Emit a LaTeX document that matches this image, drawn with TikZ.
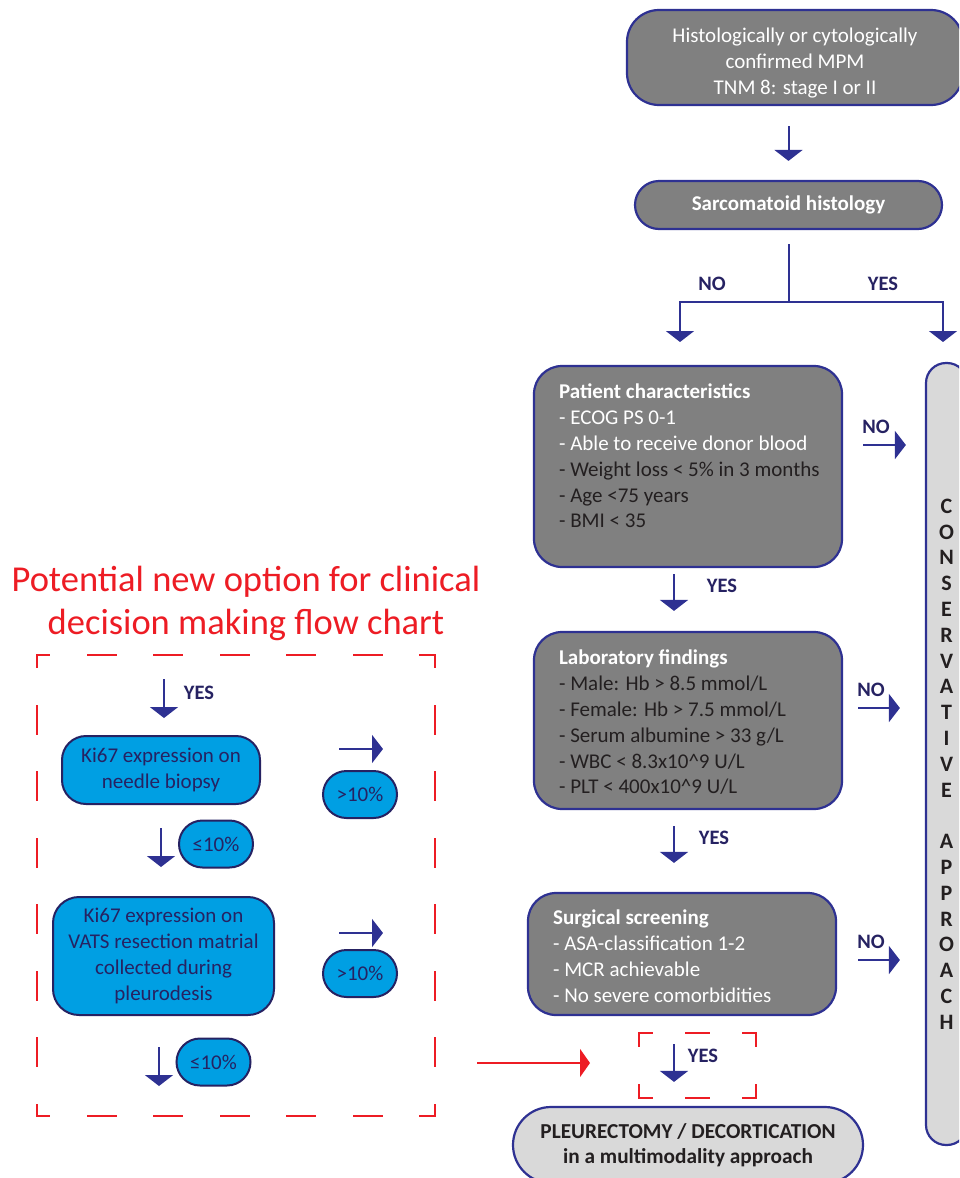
\documentclass[tikz,border=0pt]{standalone}
\usepackage{fontspec}
\setmainfont{Carlito}
\usetikzlibrary{arrows.meta, positioning}
\definecolor{navy}{HTML}{2E3192}
\definecolor{darknavy}{HTML}{262262}
\definecolor{boxgray}{HTML}{808080}
\definecolor{palegray}{HTML}{D9D9D9}
\definecolor{kiblue}{HTML}{009FE3}
\definecolor{optred}{HTML}{ED1C24}
\definecolor{ink}{HTML}{231F20}
\newcommand\padabove[1]{\rule{0pt}{#1}}

\begin{document}
\begin{tikzpicture}[
          x=1pt, y=-1pt,
          every node/.style={font=\fontsize{21}{25.8}\selectfont, inner sep=0pt},
          graybox/.style={draw=navy, fill=boxgray, line width=2.2pt, rounded corners=28pt},
          palebox/.style={draw=navy, fill=palegray, line width=2.2pt},
          bluebox/.style={draw=darknavy, fill=kiblue, line width=2pt, text=darknavy, align=center},
          bubble/.style={bluebox, rounded corners=23.5pt, minimum width=74pt, minimum height=47pt},
          boxtext/.style={text=white, align=left, anchor=north west},
          answer/.style={text=darknavy, font=\fontsize{20.5}{22}\selectfont\bfseries},
          arr/.style={navy, line width=2pt, -{Triangle[width=28pt,length=11pt]}},
          redarr/.style={optred, line width=2pt, -{Triangle[width=28pt,length=10pt]}},
          bigdash/.style={optred, line width=2pt, line cap=rect, dash pattern=on 28pt off 38.5pt, dash phase=16pt},
          gatedashh/.style={optred, line width=2pt, line cap=rect, dash pattern=on 23pt off 34pt, dash phase=10pt},
          gatedashv/.style={optred, line width=2pt, line cap=rect, dash pattern=on 13pt off 38.5pt}
        ]
          \clip (0,0) rectangle (959,1178);

          \node[graybox, rounded corners=32pt, minimum width=336pt, minimum height=95pt, text=white, align=center] (mpm) at (795,57.5)
            {\padabove{25.5pt}Histologically or cytologically\\confirmed MPM\\TNM 8: stage I or II};
          \node[graybox, rounded corners=24pt, minimum width=307pt, minimum height=48pt, text=white, font=\fontsize{21}{22}\selectfont\bfseries] (sarc) at (788.5,205)
            {Sarcomatoid histology};

          \node[graybox, minimum width=308pt, minimum height=201pt] (patient) at (688,466.5) {};
          \node[boxtext] (patienttext) at ([xshift=26pt,yshift=-19pt]patient.north west)
            {\textbf{Patient characteristics}\\- ECOG PS 0-1\\- Able to receive donor blood\\\textcolor{ink}{- Weight loss < 5\% in 3 months}\\\textcolor{ink}{- Age <75 years}\\\textcolor{ink}{- BMI < 35}};
          \node[graybox, minimum width=308pt, minimum height=177pt] (lab) at (688,720.5) {};
          \node[boxtext] (labtext) at ([xshift=26pt,yshift=-19pt]lab.north west)
            {\textbf{Laboratory findings}\\\textcolor{ink}{- Male: Hb > 8.5 mmol/L}\\\textcolor{ink}{- Female: Hb > 7.5 mmol/L}\\\textcolor{ink}{- Serum albumine > 33 g/L}\\\textcolor{ink}{- WBC < 8.3x10\textasciicircum 9 U/L}\\\textcolor{ink}{- PLT < 400x10\textasciicircum 9 U/L}};
          \node[graybox, minimum width=308pt, minimum height=122pt] (surg) at (682,954) {};
          \node[boxtext] (surgtext) at ([xshift=26pt,yshift=-18pt]surg.north west)
            {\textbf{Surgical screening}\\- ASA-classification 1-2\\- MCR achievable\\- No severe comorbidities};

          \node[palebox, rounded corners=20pt, minimum width=41pt, minimum height=782pt] (cons) at (946.5,754) {};
          \node[text=ink, font=\fontsize{22}{25.8}\selectfont\bfseries, align=center] (constext) at (946.5,764)
            {C\\O\\N\\S\\E\\R\\V\\A\\T\\I\\V\\E\\[25.8pt]A\\P\\P\\R\\O\\A\\C\\H};
          \node[palebox, rounded corners=38pt, minimum width=350pt, minimum height=76pt, text=ink, align=center, font=\fontsize{21.3}{25}\selectfont\bfseries] (pd) at (688,1145)
            {PLEURECTOMY / DECORTICATION\\in a multimodality approach};

          \draw[arr, shorten <=20pt, shorten >=19pt] (mpm.south -| sarc.north) -- (sarc.north);
          \coordinate (split) at (788.5,302);
          \coordinate (noway) at (680,342);
          \coordinate (yesway) at (943,342);
          \draw[navy, line width=2pt, shorten <=14pt] (sarc.south) -- (split);
          \draw[arr] (split) -| (noway);
          \draw[arr] (split) -| (yesway);
          \node[answer] (nosarc) at (712,284) {NO};
          \node[answer] (yessarc) at (883,284) {YES};

          \draw[arr, shorten <=20pt, shorten >=19pt] ([yshift=21.5pt]patient.east) -- ([yshift=21.5pt]patient.east -| cons.west);
          \draw[arr, shorten <=15pt, shorten >=25pt] ([yshift=12.5pt]lab.east) -- ([yshift=12.5pt]lab.east -| cons.west);
          \draw[arr, shorten <=21pt, shorten >=25pt] ([yshift=-6pt]surg.east) -- ([yshift=-6pt]surg.east -| cons.west);
          \node[answer] (nopatient) at (876,427) {NO};
          \node[answer] (nolab) at (871,690) {NO};
          \node[answer] (nosurg) at (871,942) {NO};

          \coordinate (yesgate) at (674,1063);
          \draw[arr, shorten <=6pt, shorten >=20pt] (patient.south -| yesgate) -- (lab.north -| yesgate);
          \draw[arr, shorten <=16pt, shorten >=29pt] (lab.south -| yesgate) -- (surg.north -| yesgate);
          \draw[arr, shorten <=28pt, shorten >=24pt] (surg.south -| yesgate) -- (pd.north -| yesgate);
          \node[answer] (yespatient) at (722,586) {YES};
          \node[answer] (yeslab) at (714,838) {YES};
          \node[answer] (yessurg) at (703,1056) {YES};

          \coordinate (gatenw) at (639,1033);
          \coordinate (gatese) at (756,1098);
          \draw[gatedashh] (gatenw) -- (gatenw -| gatese);
          \draw[gatedashh] (gatenw |- gatese) -- (gatese);
          \draw[gatedashv] (gatenw) -- (gatenw |- gatese);
          \draw[gatedashv] (gatenw -| gatese) -- (gatese);

          \node[text=optred, font=\fontsize{36.5}{43}\selectfont, align=center] (newopt) at (246,603.5)
            {Potential new option for clinical\\decision making flow chart};
          \coordinate (optnw) at (37,655);
          \coordinate (optse) at (435,1116);
          \draw[bigdash] (optnw) -- (optnw -| optse);
          \draw[bigdash] (optnw -| optse) -- (optse);
          \draw[bigdash] (optnw |- optse) -- (optse);
          \draw[bigdash] (optnw) -- (optnw |- optse);

          \node[bluebox, rounded corners=24pt, minimum width=198pt, minimum height=68pt] (kineedle) at (161,770)
            {Ki67 expression on\\needle biopsy};
          \node[bluebox, rounded corners=26pt, minimum width=221pt, minimum height=118pt] (kivats) at (163.5,956)
            {Ki67 expression on\\VATS resection matrial\\collected during\\pleurodesis};
          \node[bubble] (high1) at (360,794.5) {>10\%};
          \node[bubble] (low1) at (216,844) {≤10\%};
          \node[bubble] (high2) at (360,973.5) {>10\%};
          \node[bubble] (low2) at (213.5,1062) {≤10\%};
          \node[answer] (yesin) at (199,693) {YES};

          \coordinate (kiin) at (164,679);
          \coordinate (kiout) at (159,1086);
          \coordinate (hi1) at (383,749);
          \coordinate (hi2) at (383,933);
          \draw[arr, shorten >=17pt] (kiin) -- (kineedle.north -| kiin);
          \draw[arr, shorten <=23pt, shorten >=29pt] (kineedle.south) -- (kivats.north -| kineedle.south);
          \draw[arr, shorten <=31pt] (kivats.south -| kiout) -- (kiout);
          \draw[arr, shorten <=78pt] (kineedle.east |- hi1) -- (hi1);
          \draw[arr, shorten <=64pt] (kivats.east |- hi2) -- (hi2);

          \coordinate (redstart) at (477,1063);
          \coordinate (redend) at (590,1063);
          \draw[redarr] (redstart) -- (redend);
        \end{tikzpicture}
\end{document}
